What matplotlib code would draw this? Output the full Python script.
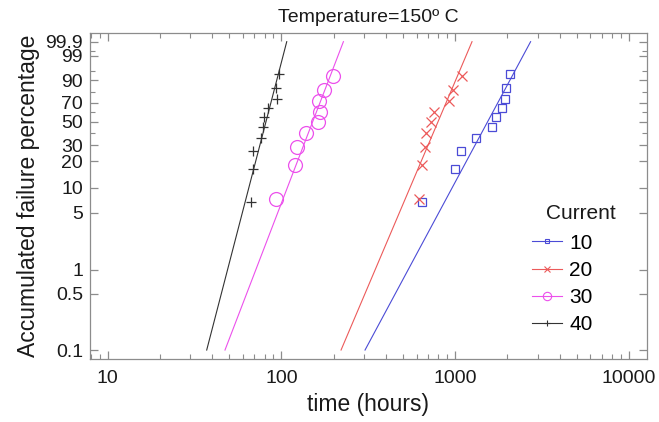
import numpy as np
import matplotlib
matplotlib.use('Agg')
import matplotlib.pyplot as plt
from matplotlib.lines import Line2D
from matplotlib.ticker import FixedLocator, FixedFormatter

plt.rcParams['font.family'] = ['Liberation Sans', 'DejaVu Sans']

# failure percentages (median ranks)
ranks_10 = [6.7, 16.3, 26.0, 35.6, 45.2, 54.8, 64.4, 74.0, 83.7, 93.3]
ranks_9 = [7.4, 18.1, 28.7, 39.4, 50.0, 60.6, 71.3, 81.9, 92.6]

# failure times (hours) per current
t_10 = [642, 999, 1077, 1319, 1624, 1719, 1854, 1937, 1963, 2070]
t_20 = [620, 642, 668, 680, 728, 760, 916, 970, 1088]
t_30 = [93.2, 119.9, 122.6, 138.7, 163.3, 167.0, 165.4, 176.8, 199.2]
t_40 = [66.7, 68.5, 68.7, 76.4, 78.8, 79.0, 84.2, 94.0, 93.0, 97.4]

# fitted lines: time at 0.1 % and 99.9 %
fit_p = [0.1, 99.9]
fit_10 = [303, 2716]
fit_20 = [220.5, 1250]
fit_30 = [47.4, 227.5]
fit_40 = [37.2, 107.4]

currents = ['10', '20', '30', '40']
colors = ['#4b4bd6', '#ec5a5a', '#ec50ec', '#333333']
markers = ['s', 'x', 'o', '+']
msizes = [6, 6.5, 10, 7]

yticks = [0.1, 0.5, 1, 5, 10, 20, 30, 50, 70, 90, 99, 99.9]
ytick_labels = ['0.1', '0.5', '1', '5', '10', '20', '30', '50', '70', '90', '99', '99.9']
yticks_minor = [40, 60, 80, 95, 99.5]


# weibull probability scale
def fwd(p):
    p = np.clip(np.asarray(p, dtype=float) / 100.0, 1e-9, 1 - 1e-12)
    return np.log(-np.log(1 - p))

def inv(w):
    w = np.clip(np.asarray(w, dtype=float), -30, 3.5)
    return 100.0 * (1 - np.exp(-np.exp(w)))


fig = plt.figure(figsize=(6.59, 4.22), dpi=100)
ax = fig.add_axes([0.1366, 0.1486, 0.8448, 0.7725])
ax.set_xscale('log')
ax.set_yscale('function', functions=(fwd, inv))

times = [t_10, t_20, t_30, t_40]
ranks = [ranks_10, ranks_9, ranks_9, ranks_10]
fits = [fit_10, fit_20, fit_30, fit_40]

for t, r, f, c, m, s in zip(times, ranks, fits, colors, markers, msizes):
    ax.plot(f, fit_p, color=c, lw=0.8)
    face = 'none' if m in ('s', 'o') else c
    ax.plot(t, r, ls='none', marker=m, ms=s, mfc=face, mec=c, mew=0.9)

ax.set_xlim(7.93, 12650)
ax.set_ylim(0.0767, 99.9847)

ax.yaxis.set_major_locator(FixedLocator(yticks))
ax.yaxis.set_major_formatter(FixedFormatter(ytick_labels))
ax.yaxis.set_minor_locator(FixedLocator(yticks_minor))

ax.set_xticks([10, 100, 1000, 10000])
ax.set_xticklabels(['10', '100', '1000', '10000'])

for sp in ax.spines.values():
    sp.set_color('#8c8c8c')
    sp.set_linewidth(0.9)

ax.tick_params(which='both', direction='in', top=True, right=True,
               color='#8c8c8c', labelsize=14, labelcolor='#1a1a1a')
ax.tick_params(which='major', length=6, width=0.9)
ax.tick_params(which='minor', length=3.5, width=0.8)
ax.tick_params(axis='x', which='major', pad=8)
ax.tick_params(axis='y', which='major', pad=5)

ax.set_title('Temperature=150º C', fontsize=14, pad=8, color='#1a1a1a')
ax.set_xlabel('time (hours)', fontsize=16.5, labelpad=4, color='#1a1a1a')
ax.set_ylabel('Accumulated failure percentage', fontsize=16.5, labelpad=4, color='#1a1a1a')

handles = [Line2D([], [], color=c, lw=0.8, marker=m, ms=s * 0.6,
                  mfc='none' if m in ('s', 'o') else c, mec=c, mew=0.8)
           for c, m, s in zip(colors, markers, msizes)]
ax.legend(handles, currents, loc='upper left', bbox_to_anchor=(0.7934, 0.385),
          frameon=False, borderpad=0, borderaxespad=0, handlelength=1.45,
          handletextpad=0.35, labelspacing=0.39, fontsize=15)
ax.text(0.882, 0.4457, 'Current', transform=ax.transAxes, ha='center',
        va='center', fontsize=15, color='#1a1a1a')

fig.savefig('out.png', dpi=100)
